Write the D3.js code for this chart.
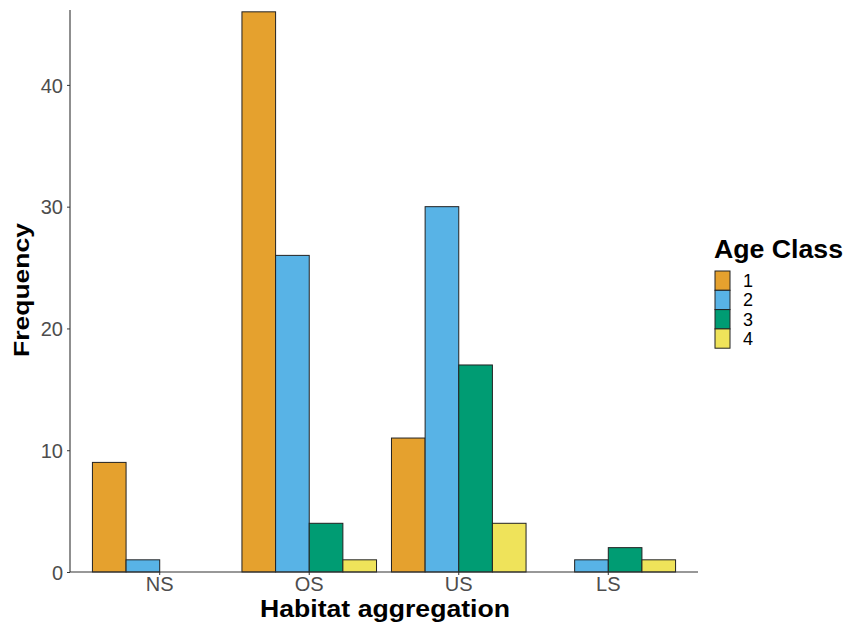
<!DOCTYPE html>
<html>
<head>
<meta charset="utf-8">
<script src="https://cdn.jsdelivr.net/npm/d3@7"></script>
<style>
  body { margin: 0; background: #fff; }
  svg { display: block; }
</style>
</head>
<body>
<svg id="chart" width="845" height="624"></svg>
<script>
// Habitat aggregation categories and age classes
const categories = ["NS", "OS", "US", "LS"];
const ageClasses = ["1", "2", "3", "4"];
// Frequency per age class, in category order (null = no observations)
const class1 = [9, 46, 11, null];
const class2 = [1, 26, 30, 1];
const class3 = [null, 4, 17, 2];
const class4 = [null, 1, 4, 1];
const yTicks = [0, 10, 20, 30, 40];
const colors = ["#E5A12E", "#58B3E6", "#009C73", "#EFE35A"];

const series = [class1, class2, class3, class4];

const svg = d3.select("#chart");
const font = "'Liberation Sans', Arial, Helvetica, sans-serif";

const plotLeft = 70, plotRight = 698, plotTop = 10, plotBottom = 572;

// Discrete axis with 0.6 units of room on each side of the outer categories
const x = d3.scaleBand().domain(categories).range([plotLeft, plotRight]).paddingInner(0).paddingOuter(0.1);
// Dodged bars take 90% of each category slot
const inner = d3.scaleBand().domain(ageClasses).range([0, x.bandwidth() * 0.9]);
const y = d3.scaleLinear().domain([0, 46.15]).range([plotBottom, plotTop]);

// Bars
const bars = [];
categories.forEach((c, i) => {
  ageClasses.forEach((a, j) => {
    const v = series[j][i];
    if (v !== null && v !== undefined) bars.push({ c, a, j, v });
  });
});

svg.append("g").selectAll("rect").data(bars).join("rect")
  .attr("x", d => x(d.c) + x.bandwidth() * 0.05 + inner(d.a))
  .attr("y", d => y(d.v))
  .attr("width", inner.bandwidth())
  .attr("height", d => y(0) - y(d.v))
  .attr("fill", d => colors[d.j])
  .attr("stroke", "#222")
  .attr("stroke-width", 1);

// Axes
const yAxis = svg.append("g").attr("transform", `translate(${plotLeft},0)`)
  .call(d3.axisLeft(y).tickValues(yTicks).tickSize(3).tickPadding(4).tickFormat(d3.format("d")));
const xAxis = svg.append("g").attr("transform", `translate(0,${plotBottom})`)
  .call(d3.axisBottom(x).tickSize(3).tickPadding(2));

[yAxis, xAxis].forEach(g => {
  g.select(".domain").attr("stroke", "#333").attr("stroke-width", 1.1);
  g.selectAll(".tick line").attr("stroke", "#333");
  g.selectAll(".tick text").attr("fill", "#4d4d4d").style("font-family", font).style("font-size", "20px");
});
yAxis.selectAll(".tick text").attr("dy", "0.36em");
yAxis.select(".domain").attr("d", `M0,${plotTop}V${plotBottom}`);
xAxis.select(".domain").attr("d", `M${plotLeft},0H${plotRight}`);

// Axis titles
svg.append("text")
  .attr("x", 385).attr("y", 617)
  .attr("text-anchor", "middle")
  .attr("textLength", 250).attr("lengthAdjust", "spacingAndGlyphs")
  .style("font-family", font).style("font-size", "23px").style("font-weight", "bold")
  .text("Habitat aggregation");

svg.append("text")
  .attr("transform", `translate(29,290) rotate(-90)`)
  .attr("text-anchor", "middle")
  .attr("textLength", 134).attr("lengthAdjust", "spacingAndGlyphs")
  .style("font-family", font).style("font-size", "22px").style("font-weight", "bold")
  .text("Frequency");

// Legend
const legend = svg.append("g").attr("transform", "translate(714,0)");
legend.append("text")
  .attr("x", 0).attr("y", 258)
  .attr("textLength", 129).attr("lengthAdjust", "spacingAndGlyphs")
  .style("font-family", font).style("font-size", "25px").style("font-weight", "bold")
  .text("Age Class");

const keyH = 19.3;
legend.selectAll("rect").data(ageClasses).join("rect")
  .attr("x", 1).attr("y", (d, i) => 271 + i * keyH)
  .attr("width", 15).attr("height", keyH)
  .attr("fill", (d, i) => colors[i])
  .attr("stroke", "#222").attr("stroke-width", 1);

legend.selectAll("text.lab").data(ageClasses).join("text")
  .attr("class", "lab")
  .attr("x", 29).attr("y", (d, i) => 271 + i * keyH + keyH / 2 + 6.5)
  .style("font-family", font).style("font-size", "18px").attr("fill", "#000")
  .text(d => d);
</script>
</body>
</html>
